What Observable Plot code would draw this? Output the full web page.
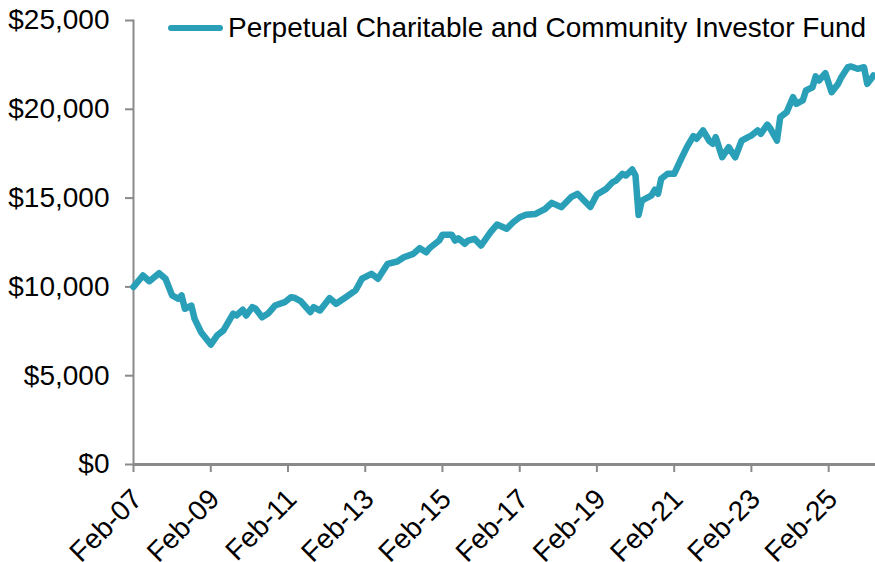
<!DOCTYPE html>
<html>
<head>
<meta charset="utf-8">
<script src="https://cdn.jsdelivr.net/npm/d3@7"></script>
<script src="https://cdn.jsdelivr.net/npm/@observablehq/plot@0.6"></script>
<style>
  html, body { margin: 0; padding: 0; background: #fff; }
  #wrap { position: relative; width: 875px; height: 562px; overflow: hidden; font-family: "Liberation Sans", Arial, sans-serif; }
  #legend { position: absolute; left: 168px; top: 12px; display: flex; align-items: center; font-size: 28px; color: #000; white-space: nowrap; }
  #legend .sw { width: 55px; height: 6px; border-radius: 3px; margin-right: 5px; }
</style>
</head>
<body>
<div id="wrap"></div>
<script>
const seriesName = "Perpetual Charitable and Community Investor Fund";
const lineColor = "#2a9fb8";
const dates = [
  "2007-02","2007-05","2007-07","2007-10","2007-12","2008-02","2008-04","2008-05","2008-06","2008-08",
  "2008-09","2008-11","2009-02","2009-04","2009-06","2009-09","2009-10","2009-12","2010-01","2010-03",
  "2010-04","2010-06","2010-08","2010-10","2011-01","2011-03","2011-04","2011-06","2011-09","2011-10",
  "2011-12","2012-03","2012-05","2012-08","2012-11","2013-01","2013-04","2013-06","2013-09","2013-12",
  "2014-02","2014-05","2014-07","2014-09","2014-10","2015-01","2015-02","2015-05","2015-06","2015-07",
  "2015-09","2015-10","2015-12","2016-02","2016-05","2016-07","2016-10","2016-12","2017-02","2017-04",
  "2017-07","2017-10","2017-12","2018-03","2018-06","2018-08","2018-11","2018-12","2019-02","2019-05",
  "2019-07","2019-08","2019-10","2019-11","2020-01","2020-02","2020-03","2020-04","2020-06","2020-07",
  "2020-08","2020-09","2020-10","2020-12","2021-02","2021-04","2021-06","2021-08","2021-09","2021-11",
  "2022-01","2022-02","2022-03","2022-05","2022-07","2022-09","2022-11","2023-01","2023-02","2023-04",
  "2023-05","2023-07","2023-08","2023-10","2023-11","2024-01","2024-03","2024-04","2024-06","2024-07",
  "2024-09","2024-10","2024-11","2025-01","2025-03","2025-05","2025-06","2025-08","2025-09","2025-11",
  "2026-01","2026-02","2026-04"
];
const values = [
  10000,10640,10320,10770,10460,9520,9330,9520,8770,8950,
  8200,7450,6750,7260,7550,8490,8390,8710,8390,8860,
  8770,8290,8520,8950,9140,9420,9390,9200,8580,8860,
  8670,9370,9050,9420,9800,10460,10740,10460,11300,11430,
  11670,11860,12180,11950,12180,12610,12930,12930,12610,12740,
  12430,12610,12710,12330,13080,13510,13270,13640,13920,14060,
  14110,14400,14730,14490,15050,15240,14680,14500,15200,15520,
  15900,15990,16370,16270,16610,16270,14050,14860,15050,15150,
  15470,15240,16090,16370,16370,17120,17870,18490,18340,18810,
  18200,18060,18430,17300,17870,17300,18240,18430,18520,18810,
  18620,19140,18900,18240,19560,19840,20680,20310,20500,21060,
  21240,21850,21620,22030,20960,21430,21810,22370,22410,22280,
  22370,21430,21900
];
const yTicks = [0, 5000, 10000, 15000, 20000, 25000];
const xTickLabels = ["Feb-07","Feb-09","Feb-11","Feb-13","Feb-15","Feb-17","Feb-19","Feb-21","Feb-23","Feb-25"];
const xDomain = ["2007-02-01", "2026-04-20"];

const parse = d3.utcParse("%Y-%m");
const data = dates.map((d, i) => ({date: parse(d), value: values[i]}));
const xTicks = xTickLabels.map(s => d3.utcParse("%b-%y")(s));

const axisColor = "#8a8a8a";
const chart = Plot.plot({
  width: 875,
  height: 562,
  marginLeft: 133,
  marginRight: 0,
  marginTop: 20,
  marginBottom: 98,
  style: {fontFamily: "'Liberation Sans', Arial, sans-serif", fontSize: "28px", color: "#000", background: "#fff"},
  x: {type: "utc", domain: xDomain.map(d => new Date(d))},
  y: {domain: [0, 25000]},
  marks: [
    Plot.axisY({ticks: yTicks, tickFormat: d => "$" + d3.format(",")(d), tickSize: 8, tickPadding: 16, stroke: axisColor, strokeWidth: 2, strokeOpacity: 1, label: null, fill: "#000"}),
    Plot.axisX({ticks: xTicks, tickFormat: () => "", tickSize: 8, stroke: axisColor, strokeWidth: 2, strokeOpacity: 1, label: null}),
    Plot.axisX({ticks: xTicks, tickFormat: d3.utcFormat("%b-%y"), tickSize: 0, tickPadding: 30, dx: 4, tickRotate: -45, label: null, fill: "#000"}),
    Plot.frame({anchor: "left", stroke: axisColor, strokeWidth: 2}),
    Plot.ruleY([0], {stroke: axisColor, strokeWidth: 3}),
    Plot.line(data, {x: "date", y: "value", stroke: lineColor, strokeWidth: 6.5, strokeLinejoin: "round", strokeLinecap: "round"})
  ]
});
const wrap = document.getElementById("wrap");
wrap.appendChild(chart);
const legend = document.createElement("div");
legend.id = "legend";
legend.innerHTML = `<span class="sw" style="background:${lineColor}"></span><span>${seriesName}</span>`;
wrap.appendChild(legend);
</script>
</body>
</html>
